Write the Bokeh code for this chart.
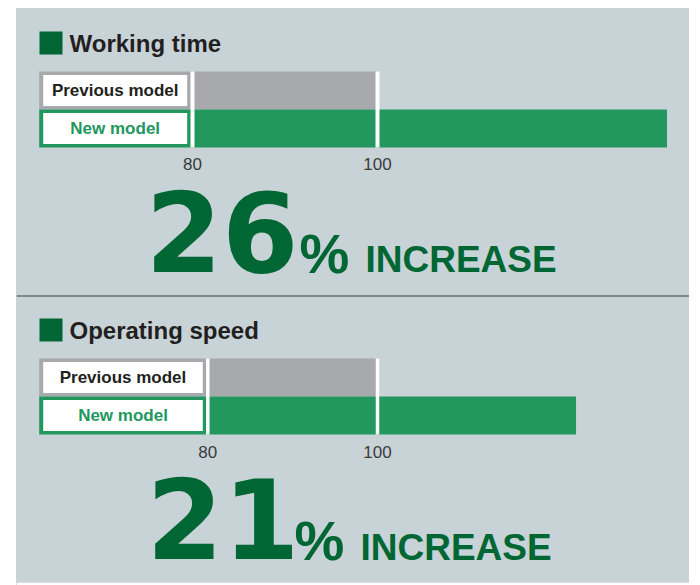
from bokeh.plotting import figure
from bokeh.models import Range1d, Span
from bokeh.layouts import column
from bokeh.embed import file_html
from bokeh.resources import INLINE
from bokeh.core.properties import value

# ---------------- data ----------------
sections = ["Working time", "Operating speed"]
models = ["Previous model", "New model"]
previous_values = [100, 100]
new_values = [131.3, 123.4]
increase_pct = ["26", "21"]
increase_word = "INCREASE"
tick_values = [80, 100]

# ---------------- style ----------------
PANEL = "#c8d3d8"
GREY = "#a7a9ac"
GREEN = "#22975e"
DARK_GREEN = "#006634"
TEXT = "#231f20"
TICK_TEXT = "#3a3a3a"
FONT = value("Liberation Sans")
BIG_FONT = value("DejaVu Sans")
ROW_H = 38.0
PAGE_LEFT = 16      # panel left edge on the page
PAGE_TOP = 8        # panel top edge on the page
PANEL_W = 673

# layout in page pixels per section (y = visual centre of text)
layouts = [
    dict(height=298, bottom=0, border="PANEL", p80=192.0, p100=377.0, new_c=128.0,
         sq_top=31, title_c=42.7, tick_c=163, num_c=230.5, pct_c=252.5, word_c=259,
         num_x=145, pct_x=299, word_x=365,
         line_w=4, box_right_gap=5.3, divider=295.5),
    dict(height=279, bottom=3, border="white", p80=207.3, p100=377.0, new_c=415.0,
         sq_top=318, title_c=330, tick_c=451, num_c=518, pct_c=539.5, word_c=546.5,
         num_x=146, pct_x=294, word_x=360,
         line_w=3.5, box_right_gap=5.0, divider=None),
]

figs = []
ft = PAGE_TOP
for i, L in enumerate(layouts):
    fh = L["height"] - L["bottom"]
    t0, t1 = tick_values

    def xd(px, L=L):
        return t0 + (px - L["p80"]) * (t1 - t0) / (L["p100"] - L["p80"])

    def yd(py, L=L):
        return (L["new_c"] - py) / ROW_H

    p = figure(width=PANEL_W, height=L["height"],
               x_range=Range1d(xd(PAGE_LEFT), xd(PAGE_LEFT + PANEL_W)),
               y_range=Range1d(yd(ft + fh), yd(ft)),
               toolbar_location=None, output_backend="svg",
               x_axis_location=None, y_axis_location=None,
               min_border=0, min_border_left=0, min_border_right=0,
               min_border_top=0, min_border_bottom=L["bottom"],
               background_fill_color=PANEL,
               border_fill_color=PANEL if L["border"] == "PANEL" else "white",
               outline_line_color=None)
    p.xgrid.visible = False
    p.ygrid.visible = False

    bar_left = xd(38.7)
    # bars
    p.hbar(y=[1], left=bar_left, right=[previous_values[i]], height=1.0,
           fill_color=GREY, line_color=None)
    p.hbar(y=[0], left=bar_left, right=[new_values[i]], height=1.0,
           fill_color=GREEN, line_color=None)

    # white label boxes
    box_l = xd(42.7)
    box_r = xd(L["p80"] - L["box_right_gap"])
    p.hbar(y=[1, 0], left=box_l, right=box_r, height=(ROW_H - 7) / ROW_H,
           fill_color="white", line_color=None)
    p.text(x=[(box_l + box_r) / 2] * 2, y=[1, 0], text=models,
           text_color=[TEXT, GREEN], text_font=FONT, text_font_style="bold",
           text_font_size="17px", text_align="center", text_baseline="middle")

    # white reference lines at ticks
    p.segment(x0=tick_values, y0=[1.5] * 2, x1=tick_values, y1=[-0.5] * 2,
              line_color="white", line_width=L["line_w"])
    p.text(x=tick_values, y=[yd(L["tick_c"])] * 2, text=[str(t) for t in tick_values],
           text_color=TICK_TEXT, text_font=FONT, text_font_size="17px",
           text_align="center", text_baseline="middle")

    # title marker + title
    p.quad(left=[xd(39)], right=[xd(62)], top=[yd(L["sq_top"])],
           bottom=[yd(L["sq_top"] + 23)], fill_color=DARK_GREEN, line_color=None)
    p.text(x=[xd(69)], y=[yd(L["title_c"])], text=[sections[i]],
           text_color=TEXT, text_font=FONT, text_font_style="bold",
           text_font_size="24px", text_align="left", text_baseline="middle")

    # big increase text
    p.text(x=[xd(L["num_x"])], y=[yd(L["num_c"])], text=[increase_pct[i]],
           text_color=DARK_GREEN, text_font=BIG_FONT, text_font_style="bold",
           text_font_size="110px", text_align="left", text_baseline="middle")
    p.text(x=[xd(L["pct_x"])], y=[yd(L["pct_c"])], text=["%"],
           text_color=DARK_GREEN, text_font=FONT, text_font_style="bold",
           text_font_size="56px", text_align="left", text_baseline="middle")
    p.text(x=[xd(L["word_x"])], y=[yd(L["word_c"])], text=[increase_word],
           text_color=DARK_GREEN, text_font=FONT, text_font_style="bold",
           text_font_size="37px", text_align="left", text_baseline="middle")

    if L["divider"] is not None:
        p.add_layout(Span(location=yd(L["divider"]), dimension="width",
                          line_color="#6d6e71", line_width=1.5))
    figs.append(p)
    ft += L["height"]

layout = column(*figs, spacing=0, margin=(PAGE_TOP, 0, 0, PAGE_LEFT),
                styles={"background-color": PANEL})
open("out.html", "w").write(file_html(layout, INLINE))
